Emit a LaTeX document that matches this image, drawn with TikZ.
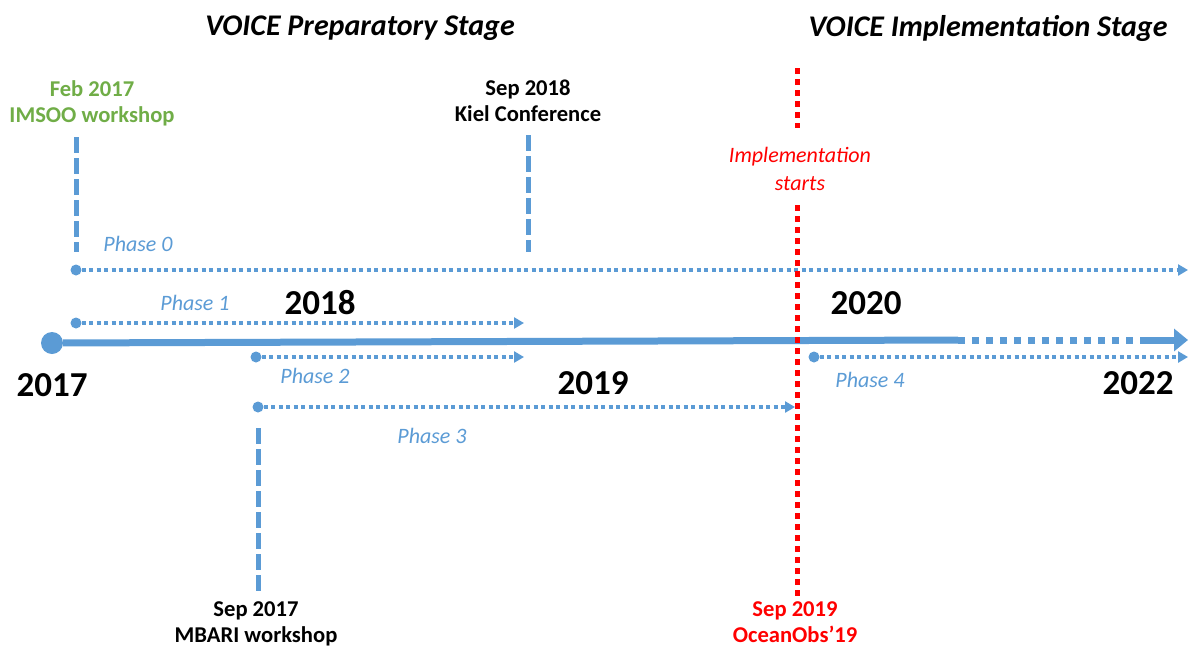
\documentclass[tikz,border=0pt]{standalone}
\usepackage{fontspec}
\setmainfont{Carlito}
\usetikzlibrary{arrows.meta}
\definecolor{vblue}{HTML}{5B9BD5}
\definecolor{vgreen}{HTML}{70AD47}
\definecolor{vred}{HTML}{FF0000}
\begin{document}
\begin{tikzpicture}[x=1pt,y=-1pt,
 dotnode/.style={circle,fill=vblue,inner sep=0pt,minimum size=11pt},
 bigdot/.style={circle,fill=vblue,inner sep=0pt,minimum size=22pt},
 phaseline/.style={vblue,line width=3.2pt,dash pattern=on 4pt off 3.5pt,-{Triangle[length=10pt,width=11pt]}},
 vdash/.style={vblue,line width=5pt,dash pattern=on 16pt off 5pt},
 rdot/.style={vred,line width=5pt,dash pattern=on 6pt off 5pt},
 mainline/.style={vblue,line width=7pt},
 titletext/.style={font=\fontsize{30}{35}\selectfont\bfseries\itshape},
 yeartext/.style={font=\fontsize{35}{40}\selectfont\bfseries},
 evttext/.style={font=\fontsize{22.6}{26}\selectfont\bfseries,align=center,inner sep=0pt},
 phasetext/.style={font=\fontsize{22}{26}\selectfont\itshape,text=vblue},
]
\useasboundingbox (0,0) rectangle (1188,648);

% titles
\node[titletext] (t1) at (360,28) {VOICE Preparatory Stage};
\node[titletext] (t2) at (988,28) {VOICE Implementation Stage};

% event labels
\node[evttext,text=vgreen] (imsoo) at (92,103) {Feb 2017\\IMSOO workshop};
\node[evttext] (kiel) at (528,101) {Sep 2018\\Kiel Conference};
\node[evttext] (mbari) at (256,624) {Sep 2017\\MBARI workshop};
\node[evttext,text=vred] (ocean) at (795,622) {Sep 2019\\OceanObs'19};
\node[font=\fontsize{22}{28}\selectfont\itshape,text=vred,align=center,inner sep=0pt] (impl) at (800,169) {Implementation\\starts};

% coordinates
\coordinate (imsooTop) at (76,137);
\coordinate (imsooBot) at (76,252);
\coordinate (kielTop) at (528,135);
\coordinate (kielBot) at (528,252);
\coordinate (mbariTop) at (258,428);
\coordinate (mbariBot) at (258,592);
\coordinate (redTop) at (797,68);
\coordinate (redA) at (797,128);
\coordinate (redB) at (797,205);
\coordinate (redBot) at (797,598);

% vertical dashed markers
\draw[vdash] (imsooTop) -- (imsooBot);
\draw[vdash] (kielTop) -- (kielBot);
\draw[vdash] (mbariTop) -- (mbariBot);

% main timeline
\node[bigdot] (start) at (52,343) {};
\coordinate (m1) at (958,340);
\coordinate (m2) at (1142,340);
\coordinate (mend) at (1188,340);
\draw[mainline] (start) -- (m1);
\draw[mainline,dash pattern=on 7pt off 7pt] (m1) -- (m2);
\draw[mainline,-{Triangle[length=14pt,width=22pt]}] (m2) -- (mend);

% phases
\node[dotnode] (p0) at (76,270) {};
\node[dotnode] (p1) at (76,323) {};
\node[dotnode] (p2) at (256,357) {};
\node[dotnode] (p3) at (258,407) {};
\node[dotnode] (p4) at (814,357) {};
\coordinate (e0) at (1188,270);
\coordinate (e1) at (524,323);
\coordinate (e2) at (524,357);
\coordinate (e3) at (795,407);
\coordinate (e4) at (1188,357);
\draw[phaseline] (p0) -- (e0);
\draw[phaseline] (p1) -- (e1);
\draw[phaseline] (p2) -- (e2);
\draw[phaseline] (p3) -- (e3);
\draw[phaseline] (p4) -- (e4);

\node[phasetext] (ph0) at (138,244) {Phase 0};
\node[phasetext] (ph1) at (195,303) {Phase 1};
\node[phasetext] (ph2) at (315,376) {Phase 2};
\node[phasetext] (ph3) at (432,436) {Phase 3};
\node[phasetext] (ph4) at (870,380) {Phase 4};

% years
\node[yeartext] (y17) at (52,385) {2017};
\node[yeartext] (y18) at (320,303) {2018};
\node[yeartext] (y19) at (593,383) {2019};
\node[yeartext] (y20) at (866,303) {2020};
\node[yeartext] (y22) at (1138,383) {2022};

% red implementation line
\draw[rdot] (redTop) -- (redA);
\draw[rdot] (redB) -- (redBot);
\end{tikzpicture}
\end{document}
